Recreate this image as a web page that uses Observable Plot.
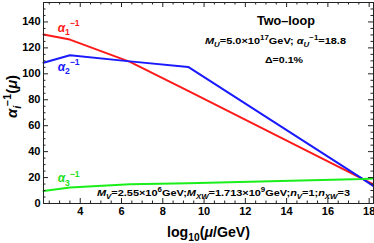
<!DOCTYPE html>
<html><head><meta charset="utf-8">
<script src="https://cdn.jsdelivr.net/npm/d3@7"></script>
<script src="https://cdn.jsdelivr.net/npm/@observablehq/plot@0.6"></script>
<style>
body{margin:0;background:#fff}
#chart svg{font-family:"Liberation Sans",Arial,sans-serif;overflow:visible}
</style>
</head><body><div id="chart"></div>
<script>
// data
const logMu  = [2.22, 3.5, 6.41, 9.23, 17.7, 18.21];
const alpha1 = [130.4, 126.4, 109.2, 86.9, 18.8, 14.8];
const alpha2 = [108.6, 114.3, 109.6, 105.3, 18.8, 13.4];
const alpha3 = [9.7, 12.4, 14.8, 15.6, 18.8, 19.3];
const seriesNames = ["a1", "a2", "a3"];
const seriesColors = ["#ff1a1a", "#1a1aff", "#1aee1a"];
const xTicks = [4, 6, 8, 10, 12, 14, 16, 18];
const yTicks = [0, 20, 40, 60, 80, 100, 120, 140];
const xMinor = d3.range(2.5, 18.21, 0.5).filter(v => !xTicks.includes(v));
const yMinor = d3.range(5, 155, 5).filter(v => !yTicks.includes(v));

const rows = [];
[alpha1, alpha2, alpha3].forEach((arr, i) => arr.forEach((v, j) => rows.push({x: logMu[j], y: v, s: seriesNames[i]})));

const W = 374, H = 243, mL = 43, mR = 1, mT = 2, mB = 40;
const innerW = W - mL - mR, innerH = H - mT - mB;
const frameC = "#222";

const plot = Plot.plot({
  width: W, height: H, marginLeft: mL, marginRight: mR, marginTop: mT, marginBottom: mB,
  x: {domain: [2.22, 18.21]},
  y: {domain: [0, 155]},
  color: {domain: seriesNames, range: seriesColors},
  style: {fontFamily: '"Liberation Sans", Arial, sans-serif', fontSize: "11px", color: "#000", background: "#fff"},
  marks: [
    Plot.line(rows, {x: "x", y: "y", z: "s", stroke: "s", strokeWidth: 2}),
    Plot.frame({stroke: frameC, strokeWidth: 1}),
    // inward ticks bottom/top
    Plot.tickX(xTicks, {x: d => d, insetTop: innerH - 5, stroke: frameC}),
    Plot.tickX(xTicks, {x: d => d, insetBottom: innerH - 5, stroke: frameC}),
    Plot.tickX(xMinor, {x: d => d, insetTop: innerH - 2.5, stroke: frameC}),
    Plot.tickX(xMinor, {x: d => d, insetBottom: innerH - 2.5, stroke: frameC}),
    Plot.tickY(yTicks, {y: d => d, insetRight: innerW - 5, stroke: frameC}),
    Plot.tickY(yTicks, {y: d => d, insetLeft: innerW - 5, stroke: frameC}),
    Plot.tickY(yMinor, {y: d => d, insetRight: innerW - 2.5, stroke: frameC}),
    Plot.tickY(yMinor, {y: d => d, insetLeft: innerW - 2.5, stroke: frameC}),
    Plot.axisX({ticks: xTicks, tickSize: 0, tickPadding: 4, fontWeight: "bold", fontSize: 11, label: null}),
    Plot.axisY({ticks: yTicks, tickSize: 0, tickPadding: 3, fontWeight: "bold", fontSize: 11, label: null})
  ]
});
document.getElementById("chart").appendChild(plot);

const sx = plot.scale("x"), sy = plot.scale("y");
const svg = d3.select(plot);

// helper: parts = [[text, kind, italic]] kind: "n" normal, "sub", "sup"
function rich(g, x, y, parts, opts) {
  const t = g.append("text").attr("x", x).attr("y", y)
    .attr("fill", opts.color || "#000")
    .attr("font-size", opts.size)
    .attr("font-weight", opts.weight || "bold")
    .attr("text-anchor", opts.anchor || "start");
  if (opts.rotate) t.attr("transform", `rotate(-90 ${x} ${y})`);
  let shift = 0;
  parts.forEach(([s, kind, it]) => {
    const ts = t.append("tspan").text(s);
    const target = kind === "sub" ? opts.size * 0.3 : kind === "sup" ? -opts.size * 0.45 : 0;
    if (target !== shift) { ts.attr("dy", target - shift); shift = target; }
    if (kind !== "n") ts.attr("font-size", opts.size * 0.72);
    if (it) ts.attr("font-style", "italic");
  });
  if (opts.len) t.attr("textLength", opts.len).attr("lengthAdjust", "spacingAndGlyphs");
  return t;
}

const g = svg.append("g");
// curve labels
const lx = sx.apply(2.93);
rich(g, lx, sy.apply(132), [["α", "n", true], ["1", "sub"], ["−1", "sup"]], {size: 12, color: seriesColors[0], len: 22});
rich(g, lx, sy.apply(102), [["α", "n", true], ["2", "sub"], ["−1", "sup"]], {size: 12, color: seriesColors[1], len: 22});
rich(g, lx, sy.apply(16), [["α", "n", true], ["3", "sub"], ["−1", "sup"]], {size: 12, color: "#22e022", len: 22});

// annotation block
rich(g, 257, 25, [["Two–loop", "n"]], {size: 12.5, len: 58});
rich(g, 205, 44, [["M", "n", true], ["U", "sub", true], ["=5.0×10", "n"], ["17", "sup"], ["GeV; ", "n"], ["α", "n", true], ["U", "sub", true], ["−1", "sup"], ["=18.8", "n"]], {size: 9.5, len: 141});
rich(g, 265, 63, [["Δ=0.1%", "n"]], {size: 9, len: 38});
rich(g, 97, 196, [["M", "n", true], ["V", "sub", true], ["=2.55×10", "n"], ["6", "sup"], ["GeV;", "n"], ["M", "n", true], ["XW", "sub", true], ["=1.713×10", "n"], ["9", "sup"], ["GeV;", "n"], ["n", "n", true], ["V", "sub", true], ["=1;", "n"], ["n", "n", true], ["XW", "sub", true], ["=3", "n"]], {size: 9.5, len: 253});

// axis titles
rich(g, 167, 237, [["log", "n"], ["10", "sub"], ["(", "n"], ["μ", "n", true], ["/GeV)", "n"]], {size: 14.5, len: 83});
rich(g, 17, 118, [["α", "n", true], ["i", "sub", true], ["−1", "sup"], ["(", "n"], ["μ", "n", true], [")", "n"]], {size: 14, rotate: true, len: 43});
</script>
</body></html>
